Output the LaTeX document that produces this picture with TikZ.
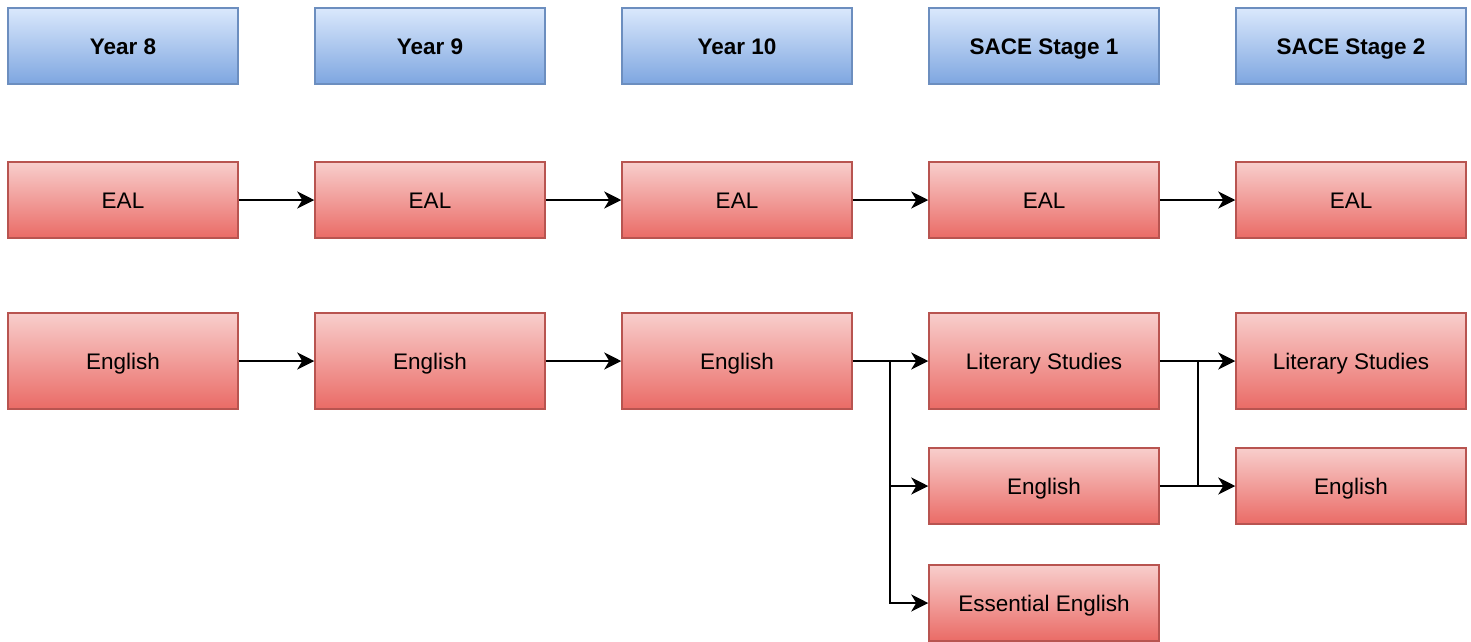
\documentclass[tikz,border=0pt]{standalone}
\usepackage{fontspec}
\setmainfont{Liberation Sans}
\usetikzlibrary{arrows.meta}
\definecolor{hdrtop}{HTML}{DAE8FC}
\definecolor{hdrbot}{HTML}{7EA6E0}
\definecolor{hdrline}{HTML}{6C8EBF}
\definecolor{subjtop}{HTML}{F8CECC}
\definecolor{subjbot}{HTML}{EA6B66}
\definecolor{subjline}{HTML}{B85450}

\begin{document}
\begin{tikzpicture}[x=1pt, y=-1pt,
    hdr/.style={draw=hdrline, line width=1.5pt, top color=hdrtop, bottom color=hdrbot, minimum width=230pt, minimum height=76pt, inner sep=0pt, text height=20pt, text depth=4pt, font=\fontsize{22.5}{27}\selectfont\bfseries},
    subj/.style={draw=subjline, line width=1.5pt, top color=subjtop, bottom color=subjbot, minimum width=230pt, minimum height=76pt, inner sep=0pt, text height=20pt, text depth=4pt, font=\fontsize{22.5}{27}\selectfont},
    tall/.style={minimum height=96pt},
    link/.style={line width=2pt},
    >={Stealth[length=17pt,width=17pt,inset=5pt]}]
    \useasboundingbox (0,0) rectangle (1471,641);

    % column headers
    \node[hdr] (y8) at (123,46) {Year 8};
    \node[hdr] (y9) at (430,46) {Year 9};
    \node[hdr] (y10) at (737,46) {Year 10};
    \node[hdr] (s1) at (1044,46) {SACE Stage 1};
    \node[hdr] (s2) at (1351,46) {SACE Stage 2};

    % EAL row
    \node[subj] (eal8) at (123,200) {EAL};
    \node[subj] (eal9) at (430,200) {EAL};
    \node[subj] (eal10) at (737,200) {EAL};
    \node[subj] (eals1) at (1044,200) {EAL};
    \node[subj] (eals2) at (1351,200) {EAL};

    % English row
    \node[subj, tall] (eng8) at (123,361) {English};
    \node[subj, tall] (eng9) at (430,361) {English};
    \node[subj, tall] (eng10) at (737,361) {English};
    \node[subj, tall] (lits1) at (1044,361) {Literary Studies};
    \node[subj, tall] (lits2) at (1351,361) {Literary Studies};
    \node[subj] (engs1) at (1044,486) {English};
    \node[subj] (engs2) at (1351,486) {English};
    \node[subj] (esss1) at (1044,603) {Essential English};

    \coordinate (split1) at (890,361);
    \coordinate (split2) at (1198,361);
    \coordinate (split2b) at (1198,486);

    \draw[link, ->] (eal8) -- (eal9);
    \draw[link, ->] (eal9) -- (eal10);
    \draw[link, ->] (eal10) -- (eals1);
    \draw[link, ->] (eals1) -- (eals2);

    \draw[link, ->] (eng8) -- (eng9);
    \draw[link, ->] (eng9) -- (eng10);
    \draw[link, ->] (eng10) -- (lits1);
    \draw[link, ->] (split1) |- (engs1.west);
    \draw[link, ->] (split1) |- (esss1.west);

    \draw[link, ->] (lits1) -- (lits2);
    \draw[link, ->] (engs1) -- (engs2);
    \draw[link] (split2) -- (split2b);
\end{tikzpicture}
\end{document}
